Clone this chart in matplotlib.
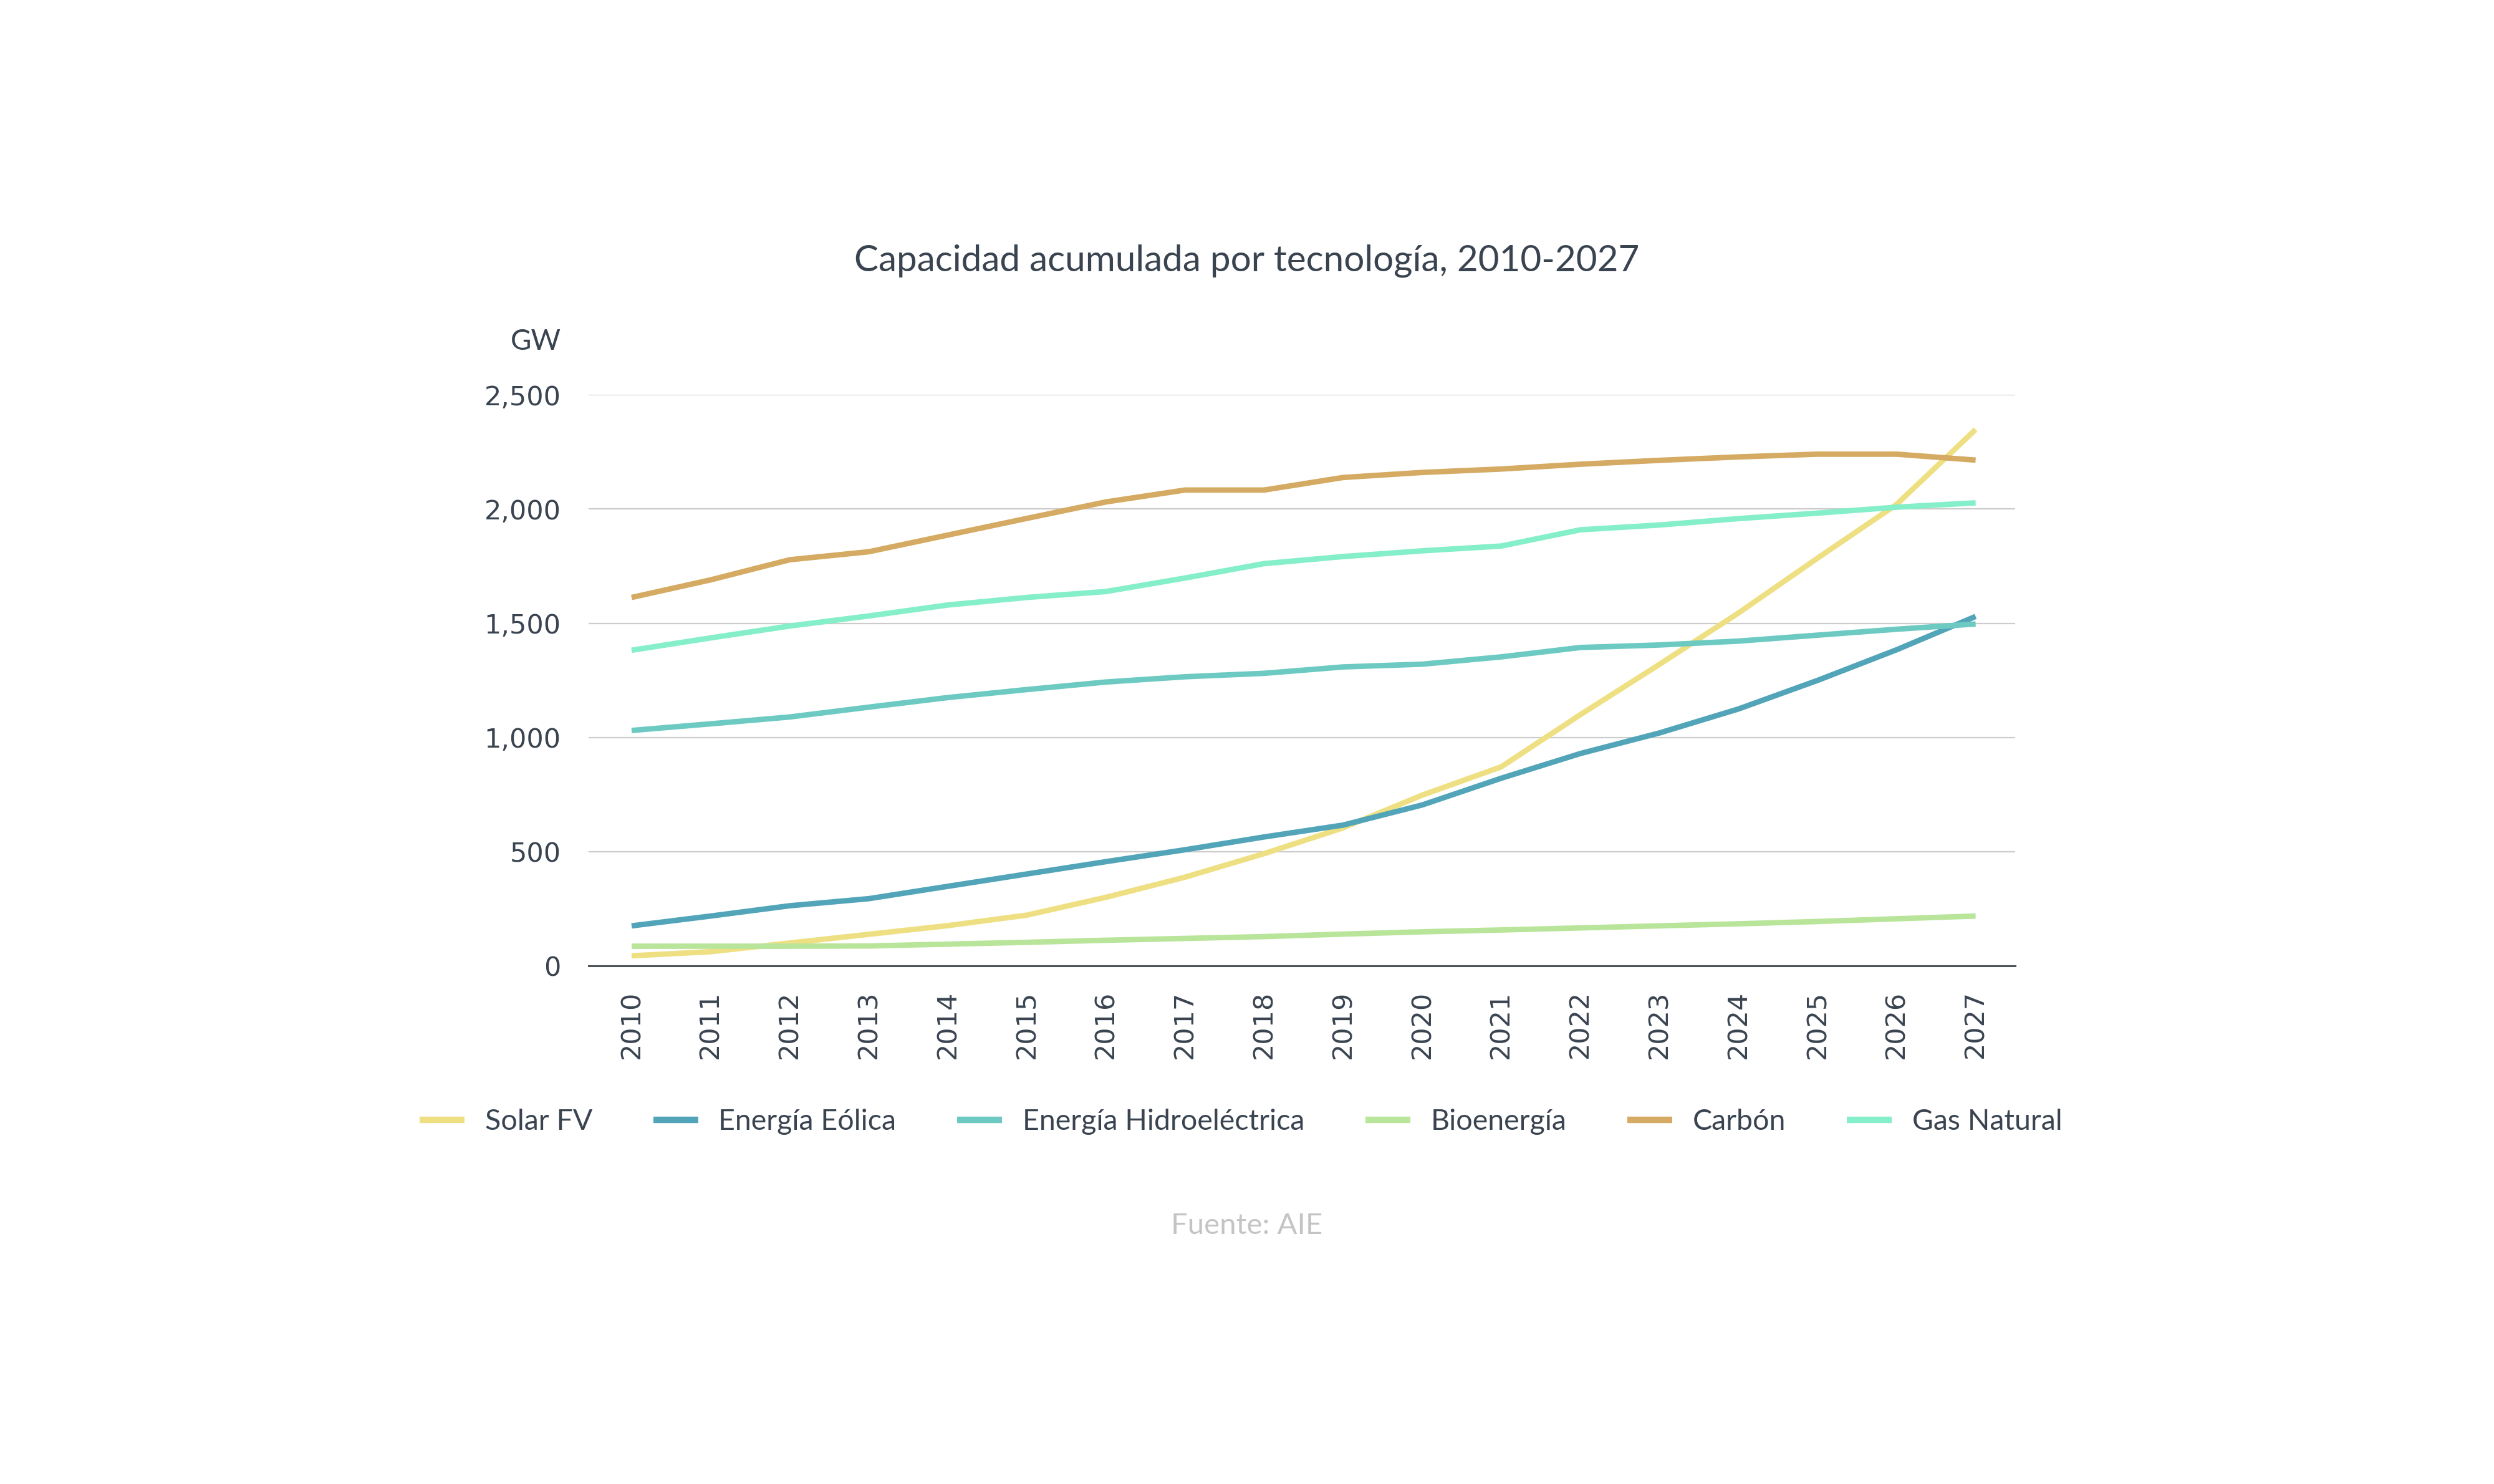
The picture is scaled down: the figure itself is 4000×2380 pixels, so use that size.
import matplotlib
matplotlib.use("Agg")
import matplotlib.pyplot as plt

# datos (GW)
years = list(range(2010, 2028))

solar = [45, 63, 101, 139, 177, 223, 301, 389, 492, 605, 748, 872, 1100, 1320, 1545, 1785, 2020, 2348]
eolica = [176, 219, 264, 295, 349, 403, 457, 509, 565, 617, 705, 822, 930, 1020, 1125, 1250, 1384, 1530]
hidro = [1031, 1060, 1090, 1133, 1175, 1210, 1243, 1266, 1281, 1309, 1321, 1353, 1394, 1405, 1422, 1448, 1474, 1497]
bio = [87, 87, 87, 88, 96, 104, 113, 121, 129, 140, 150, 158, 167, 176, 185, 195, 207, 219]
carbon = [1613, 1690, 1778, 1813, 1886, 1959, 2031, 2083, 2083, 2138, 2160, 2175, 2196, 2213, 2228, 2240, 2240, 2214]
gas = [1382, 1436, 1488, 1532, 1580, 1613, 1639, 1698, 1761, 1792, 1817, 1838, 1909, 1930, 1958, 1982, 2008, 2027]

labels = ["Solar FV", "Energía Eólica", "Energía Hidroeléctrica", "Bioenergía", "Carbón", "Gas Natural"]
colors = ["#EEE082", "#52A5B8", "#6CCAC2", "#B9E59B", "#D5AA62", "#84EFC8"]

text_color = "#3A4450"

fig = plt.figure(figsize=(40, 23.8), dpi=100)
ax = fig.add_axes([0.236, 0.349, 0.572, 0.385])

series = [solar, eolica, hidro, bio, carbon, gas]
for vals, lab, col in zip(series, labels, colors):
    ax.plot(years, vals, color=col, lw=6.3, label=lab, solid_capstyle="butt")

ax.set_xlim(2009.456, 2027.5)
ax.set_ylim(0, 2500)
ax.set_yticks([0, 500, 1000, 1500, 2000, 2500])
ax.set_yticklabels(["0", "500", "1,000", "1,500", "2,000", "2,500"])
ax.set_xticks(years)
ax.set_xticklabels([str(y) for y in years], rotation=90)

ax.grid(axis="y", color="#CCCCCC", lw=1.6)
ax.set_axisbelow(True)
for s in ["top", "right", "left"]:
    ax.spines[s].set_visible(False)
ax.spines["bottom"].set_color("#4A525A")
ax.spines["bottom"].set_linewidth(2.2)

ax.tick_params(axis="y", length=0, pad=32, labelsize=31, labelcolor=text_color)
ax.tick_params(axis="x", length=0, pad=28, labelsize=31, labelcolor=text_color)
for t in ax.get_xticklabels() + ax.get_yticklabels():
    t.set_family("DejaVu Sans")

fig.text(0.5, 1 - 418 / 2380, "Capacidad acumulada por tecnología, 2010-2027",
         ha="center", va="center", fontsize=42, color=text_color, family="Lato")
fig.text(0.225, 1 - 548 / 2380, "GW", ha="right", va="center",
         fontsize=33, color=text_color, family="Lato")

leg = fig.legend(loc="center", bbox_to_anchor=(0.4975, 1 - 1799 / 2380), ncol=6,
                 frameon=False, handlelength=1.55, handletextpad=0.7,
                 columnspacing=2.1, prop={"family": "Lato", "size": 33.5})
for h in leg.get_lines():
    h.set_linewidth(7.5)
for t in leg.get_texts():
    t.set_color(text_color)

fig.text(0.5, 1 - 1966 / 2380, "Fuente: AIE", ha="center", va="center",
         fontsize=34, color="#C4C4C4", family="Lato")

fig.savefig("out.png", dpi=100, facecolor="white")
